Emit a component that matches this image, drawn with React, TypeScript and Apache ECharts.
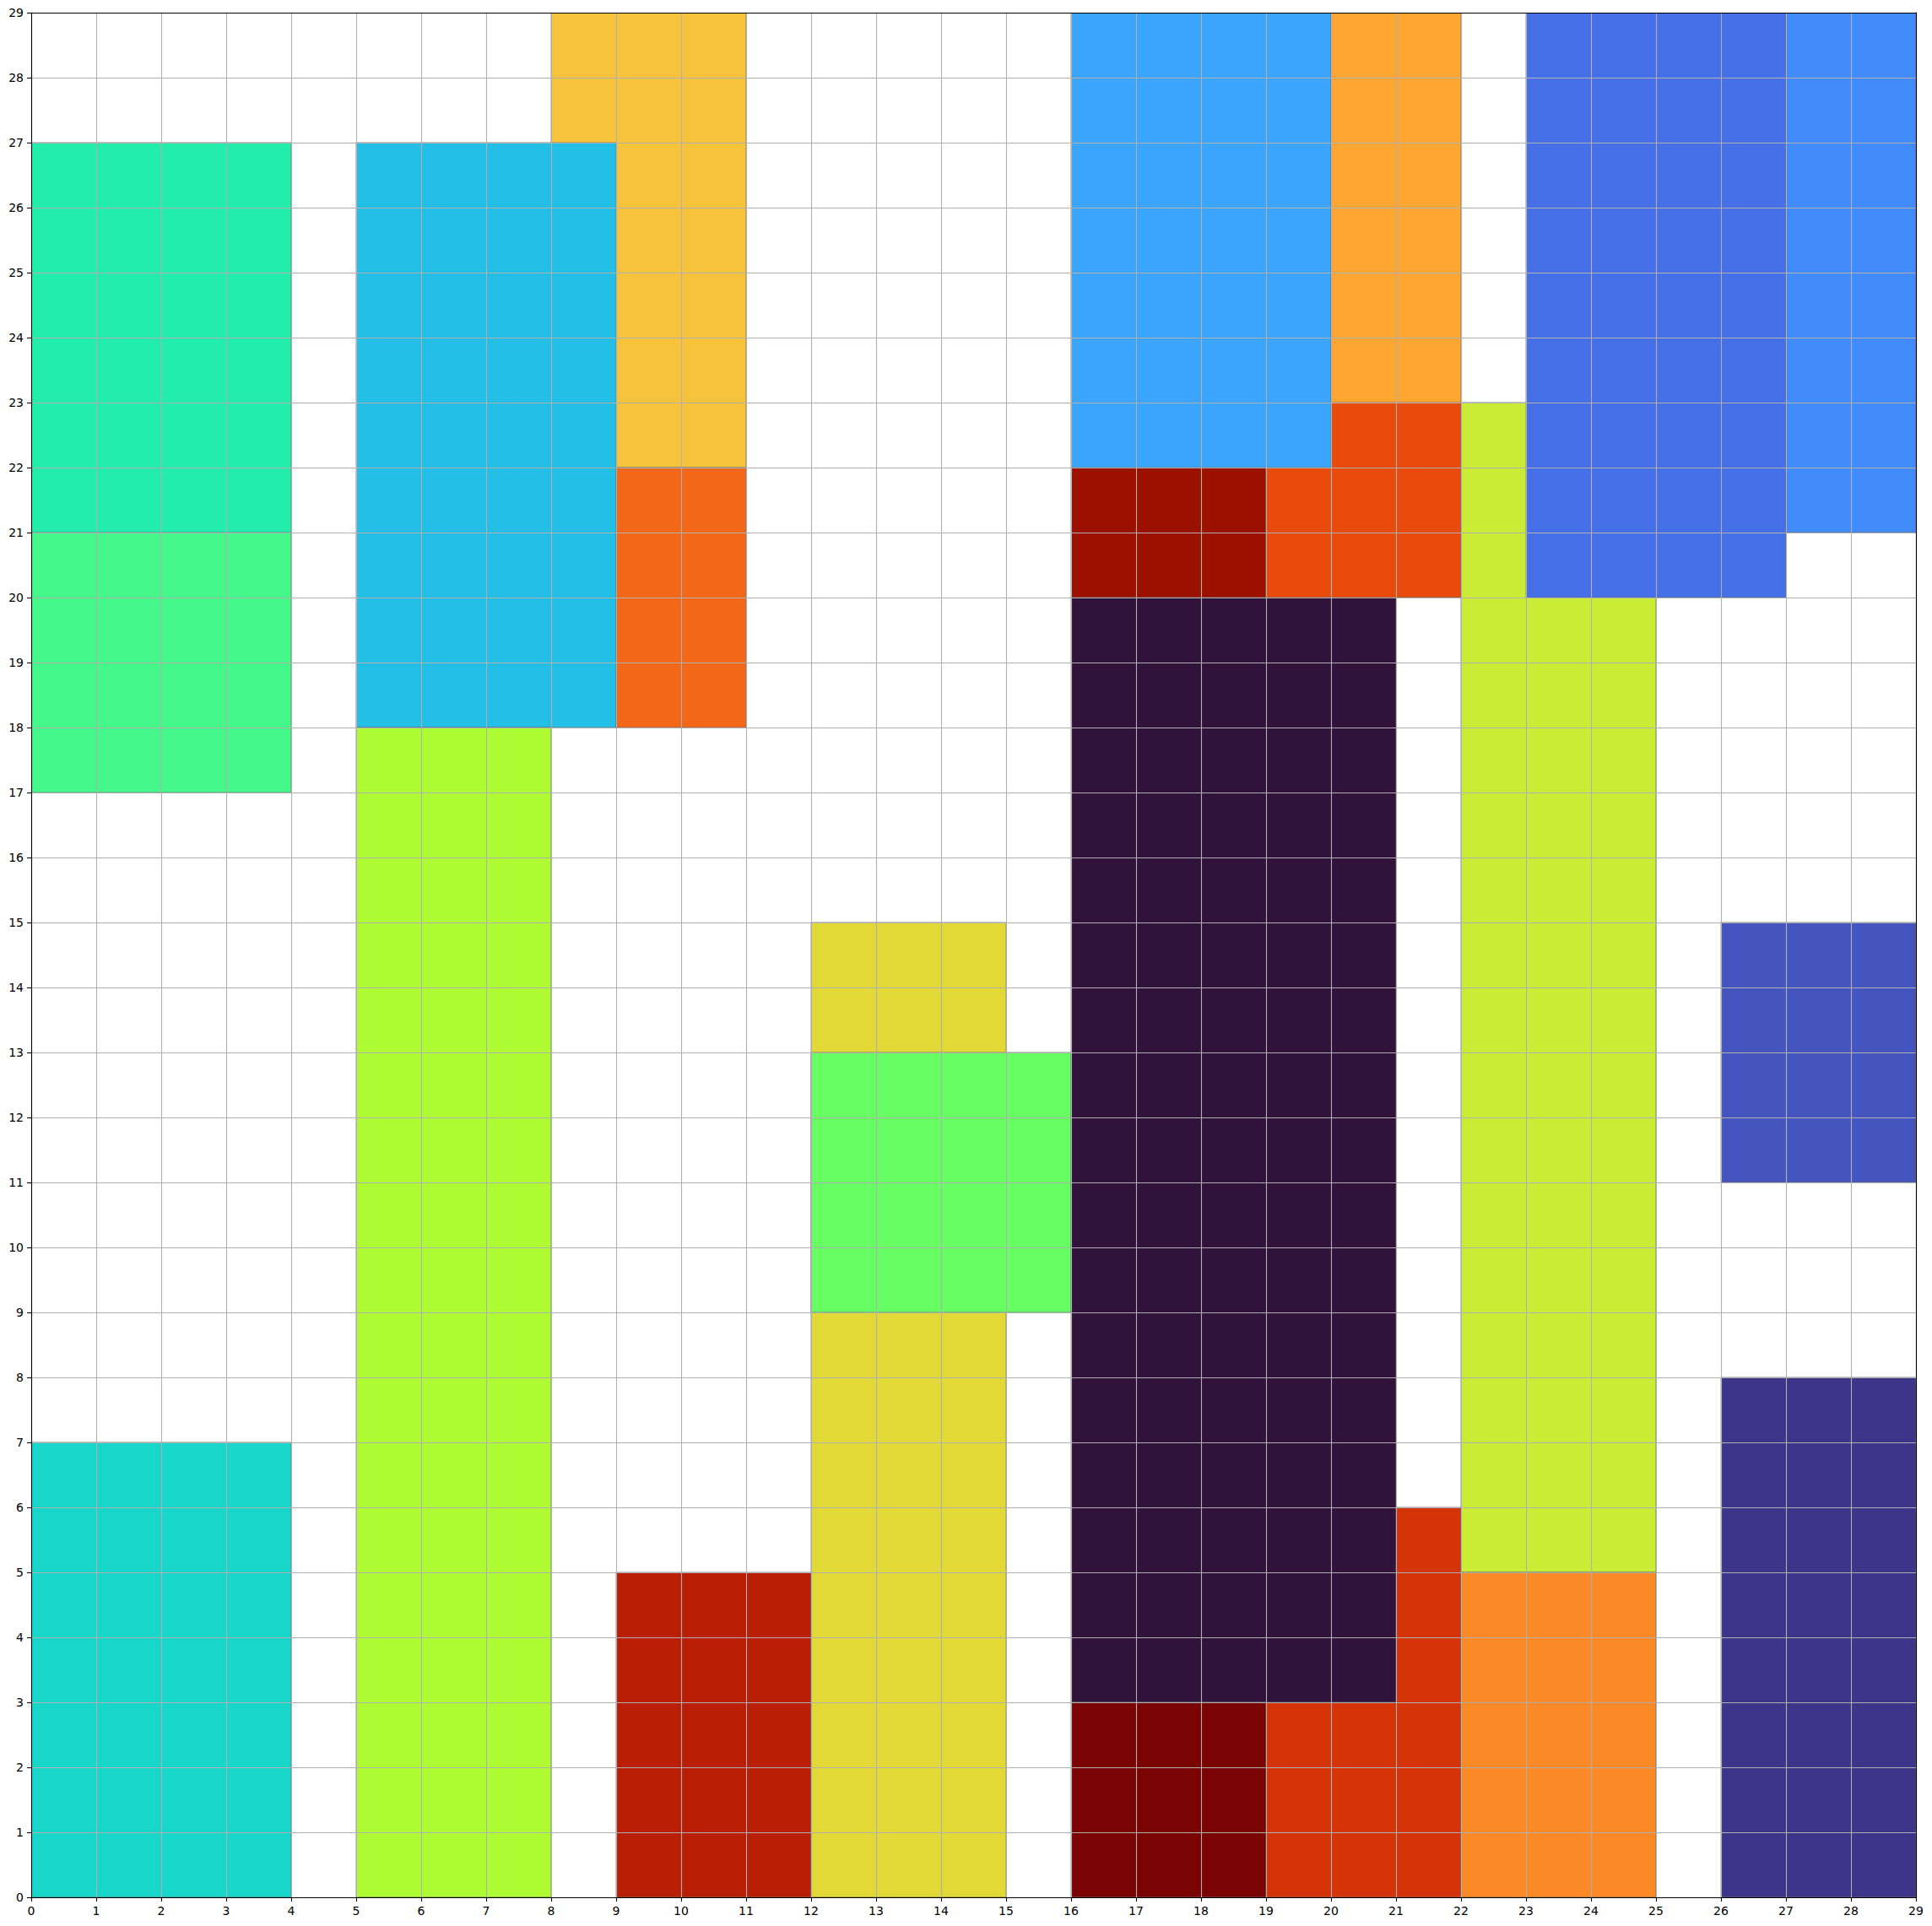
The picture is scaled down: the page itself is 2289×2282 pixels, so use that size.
import React, { useEffect, useRef } from "react";
import * as echarts from "echarts";

// rectangles: [x0, y0, x1, y1], drawn in this order
const rectX0 = [0, 0, 0, 8, 5, 5, 9, 9, 12, 12, 19, 16, 16, 16, 19, 16, 20, 22, 22, 23, 27, 26, 26];
const rectY0 = [0, 17, 21, 22, 18, 0, 18, 0, 0, 9, 0, 3, 0, 20, 20, 22, 23, 5, 0, 20, 21, 11, 0];
const rectX1 = [4, 4, 4, 11, 9, 8, 11, 12, 15, 16, 22, 21, 19, 19, 22, 20, 22, 25, 25, 27, 29, 29, 29];
const rectY1 = [7, 21, 27, 29, 27, 18, 22, 5, 15, 13, 6, 20, 3, 22, 23, 29, 29, 23, 5, 29, 29, 15, 8];
const rectColors = [
  "#18d6c9", "#44f98a", "#22edab", "#f7c33a", "#24bfe7", "#aefa33",
  "#f36719", "#b91f04", "#e3d936", "#67fe63", "#d43407", "#30123b",
  "#7a0403", "#9c1000", "#e84b0c", "#3aa5fb", "#fea632", "#cbec34",
  "#fb8a26", "#4670e8", "#428bfd", "#4555c0", "#3c3589",
];
const axisMin = 0;
const axisMax = 29;

export default function App() {
  const ref = useRef<HTMLDivElement>(null);
  useEffect(() => {
    document.body.style.margin = "0";
    const chart = echarts.init(ref.current!, null, { renderer: "svg" });
    const data = rectX0.map((x0, i) => [x0, rectY0[i], rectX1[i], rectY1[i], i]);
    const font = { fontFamily: "DejaVu Sans", fontSize: 14, color: "#000" };
    const mainAxis = (pos: string) => ({
      type: "value",
      position: pos,
      min: axisMin,
      max: axisMax,
      interval: 1,
      z: 5,
      axisLine: { show: true, onZero: false, lineStyle: { color: "#000", width: 1.1 } },
      axisTick: { show: true, length: 5, lineStyle: { color: "#000", width: 1.1 } },
      axisLabel: { ...font, margin: 9 },
      splitLine: { show: true, lineStyle: { color: "#b0b0b0", width: 1.1 } },
    });
    const sideAxis = (pos: string) => ({
      type: "value",
      position: pos,
      min: axisMin,
      max: axisMax,
      interval: 1,
      z: 6,
      axisLine: { show: true, onZero: false, lineStyle: { color: "#000", width: 1.1 } },
      axisTick: { show: false },
      axisLabel: { show: false },
      splitLine: { show: false },
    });
    chart.setOption({
      animation: false,
      backgroundColor: "#fff",
      grid: { left: 37, right: 19, top: 15, bottom: 34, containLabel: false },
      xAxis: [mainAxis("bottom"), sideAxis("top")],
      yAxis: [mainAxis("left"), sideAxis("right")],
      series: [
        {
          type: "custom",
          xAxisIndex: 0,
          yAxisIndex: 0,
          z: 2,
          clip: true,
          data,
          renderItem: (params: any, api: any) => {
            const p0 = api.coord([api.value(0), api.value(1)]);
            const p1 = api.coord([api.value(2), api.value(3)]);
            const idx = api.value(4);
            return {
              type: "rect",
              shape: {
                x: Math.min(p0[0], p1[0]),
                y: Math.min(p0[1], p1[1]),
                width: Math.abs(p1[0] - p0[0]),
                height: Math.abs(p1[1] - p0[1]),
              },
              style: {
                fill: rectColors[idx],
                stroke: "rgba(110,110,110,0.55)",
                lineWidth: 1.3,
              },
            };
          },
        },
      ],
    });
    return () => chart.dispose();
  }, []);
  return <div ref={ref} style={{ width: 2289, height: 2282 }} />;
}
